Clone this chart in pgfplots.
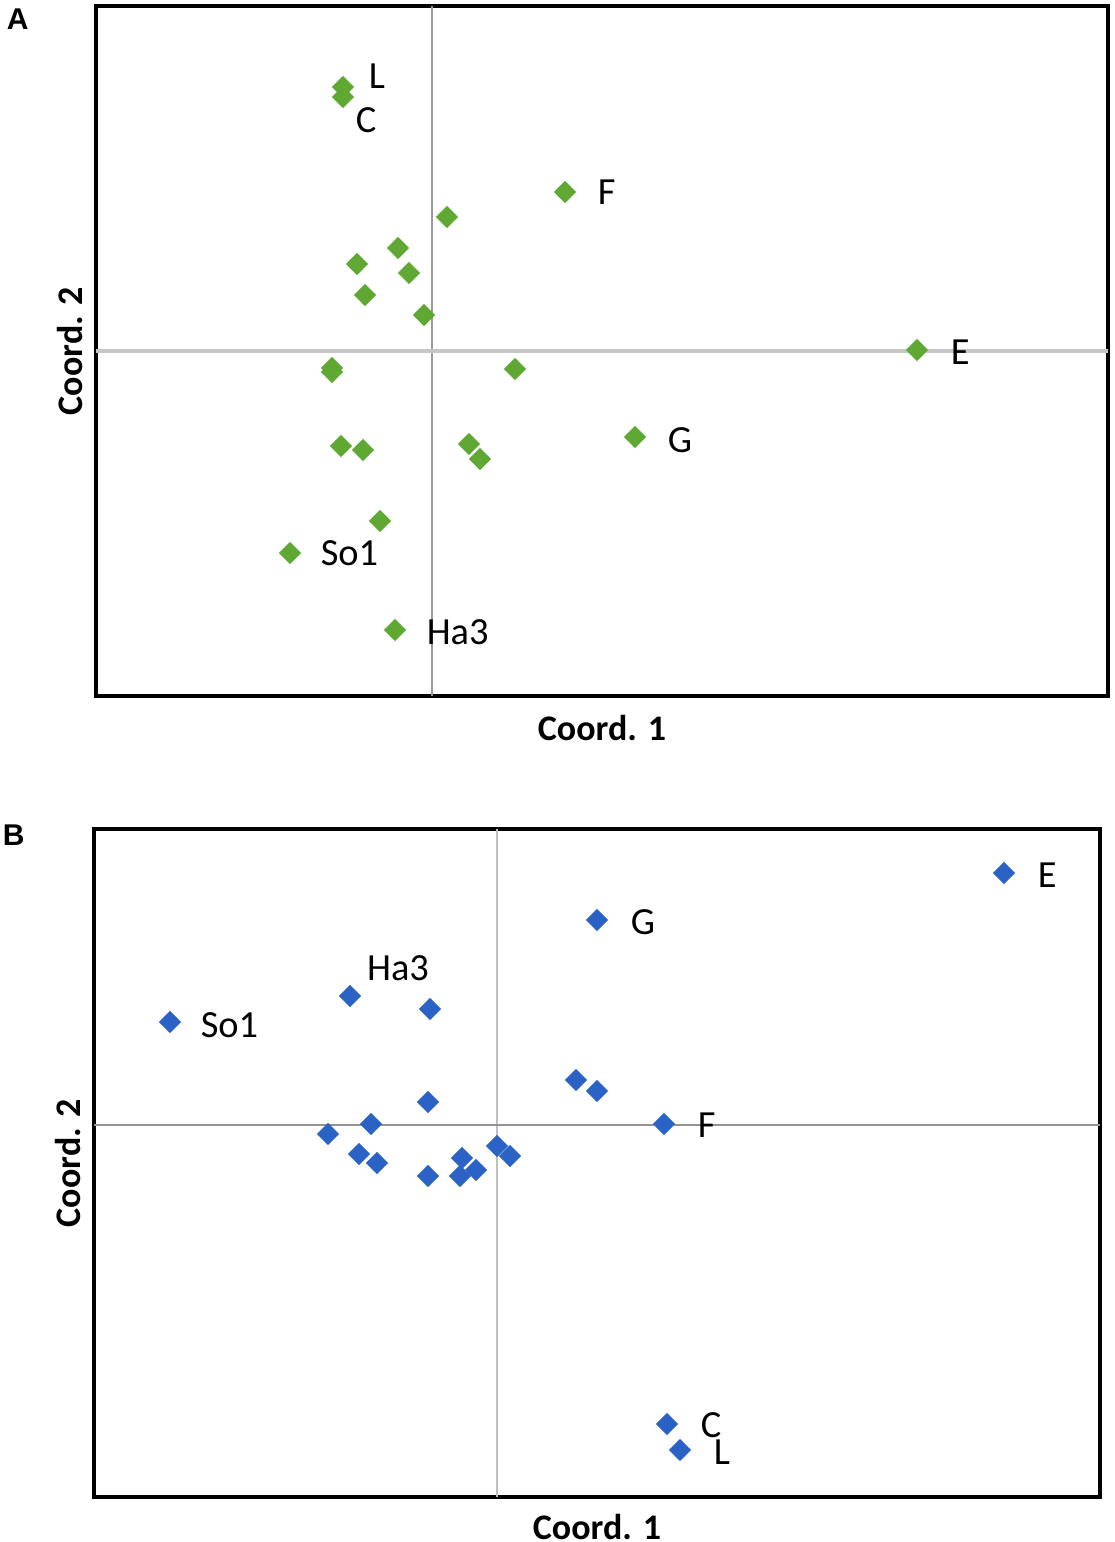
\documentclass[border=0pt]{standalone}
\usepackage{fontspec}
\setmainfont{Carlito}
\newfontfamily\panelfont{Liberation Sans}
\usepackage{pgfplots}
\pgfplotsset{compat=1.18}

\definecolor{ptgreen}{RGB}{96,168,52}
\definecolor{ptblue}{RGB}{42,98,198}

\pgfplotsset{
  pcoa/.style={
    scale only axis,
    xtick=\empty, ytick=\empty,
    axis line style={line width=0.8pt},
    extra x ticks={0}, extra y ticks={0},
    extra x tick labels={}, extra y tick labels={},
    extra tick style={major tick length=0pt},
    xlabel={\bfseries Coord. 1},
    ylabel={\bfseries Coord. 2},
    label style={font=\fontsize{9}{11}\selectfont, inner sep=0.5pt},
    clip=false,
  },
}
\tikzset{lab/.style={anchor=west, inner sep=0pt, font=\fontsize{9.6}{12}\selectfont}}

\begin{document}
\begin{tikzpicture}
\useasboundingbox (0,0) rectangle (278.5pt,-385.5pt);

% panel A
\node[anchor=north west, inner sep=0pt, font=\panelfont\bfseries\fontsize{7.5}{9}\selectfont] at (1.5pt,-2pt) {A};
\begin{axis}[
    pcoa,
    at={(24pt,-174pt)}, anchor=south west,
    width=253pt, height=172.5pt,
    xmin=-3.36, xmax=6.76,
    ymin=-3.45, ymax=3.45,
    xlabel style={at={(axis description cs:0.5,-0.046)}, anchor=center},
    ylabel style={at={(axis description cs:-0.026,0.5)}, anchor=center},
    extra x tick style={grid=major, major grid style={gray!80, line width=0.5pt}},
    extra y tick style={grid=major, major grid style={gray!45, line width=0.8pt}},
]
\addplot[only marks, mark=square*, mark size=1.75pt, color=ptgreen, mark options={rotate=45}]
    coordinates {
    (-0.89,2.64)(-0.89,2.54)(0.15,1.34)(-0.34,1.03)(-0.75,0.87)(-0.23,0.78)
    (-0.67,0.56)(-0.08,0.36)(1.33,1.59)(4.85,0.01)(-1.00,-0.17)(-1.00,-0.21)
    (0.83,-0.18)(-0.91,-0.95)(-0.69,-0.99)(0.37,-0.93)(0.48,-1.08)(2.03,-0.86)
    (-0.52,-1.70)(-1.42,-2.02)(-0.37,-2.79)
    };
\node[lab] at (axis cs:-0.64,2.75) {L};
\node[lab] at (axis cs:-0.77,2.31) {C};
\node[lab] at (axis cs:1.65,1.59) {F};
\node[lab] at (axis cs:5.18,-0.01) {E};
\node[lab] at (axis cs:2.35,-0.89) {G};
\node[lab] at (axis cs:-1.12,-2.02) {So1};
\node[lab] at (axis cs:-0.06,-2.81) {Ha3};
\end{axis}

% panel B
\node[anchor=north west, inner sep=0pt, font=\panelfont\bfseries\fontsize{7.5}{9}\selectfont] at (0.5pt,-206pt) {B};
\begin{axis}[
    pcoa,
    at={(23.5pt,-374.25pt)}, anchor=south west,
    width=251.5pt, height=167pt,
    xmin=-4.03, xmax=6.03,
    ymin=-3.72, ymax=2.96,
    xlabel style={at={(axis description cs:0.5,-0.045)}, anchor=center},
    ylabel style={at={(axis description cs:-0.026,0.5)}, anchor=center},
    extra x tick style={grid=major, major grid style={gray!50, line width=0.6pt}},
    extra y tick style={grid=major, major grid style={gray!85, line width=0.4pt}},
]
\addplot[only marks, mark=square*, mark size=1.75pt, color=ptblue, mark options={rotate=45}]
    coordinates {
    (5.07,2.52)(1.00,2.05)(-3.27,1.03)(-1.47,1.29)(-0.67,1.16)(-0.69,0.23)
    (-1.26,0.01)(-1.69,-0.09)(-1.38,-0.29)(-1.20,-0.38)(-0.69,-0.51)(-0.35,-0.33)
    (-0.37,-0.51)(-0.21,-0.45)(0.00,-0.21)(0.13,-0.31)(0.79,0.45)(1.00,0.34)
    (1.67,0.01)(1.70,-2.99)(1.83,-3.25)
    };
\node[lab] at (axis cs:5.40,2.50) {E};
\node[lab] at (axis cs:1.33,2.03) {G};
\node[lab] at (axis cs:-2.97,1.00) {So1};
\node[lab, anchor=center] at (axis cs:-0.99,1.57) {Ha3};
\node[lab] at (axis cs:2.00,0.00) {F};
\node[lab] at (axis cs:2.03,-3.00) {C};
\node[lab] at (axis cs:2.16,-3.27) {L};
\end{axis}
\end{tikzpicture}
\end{document}
